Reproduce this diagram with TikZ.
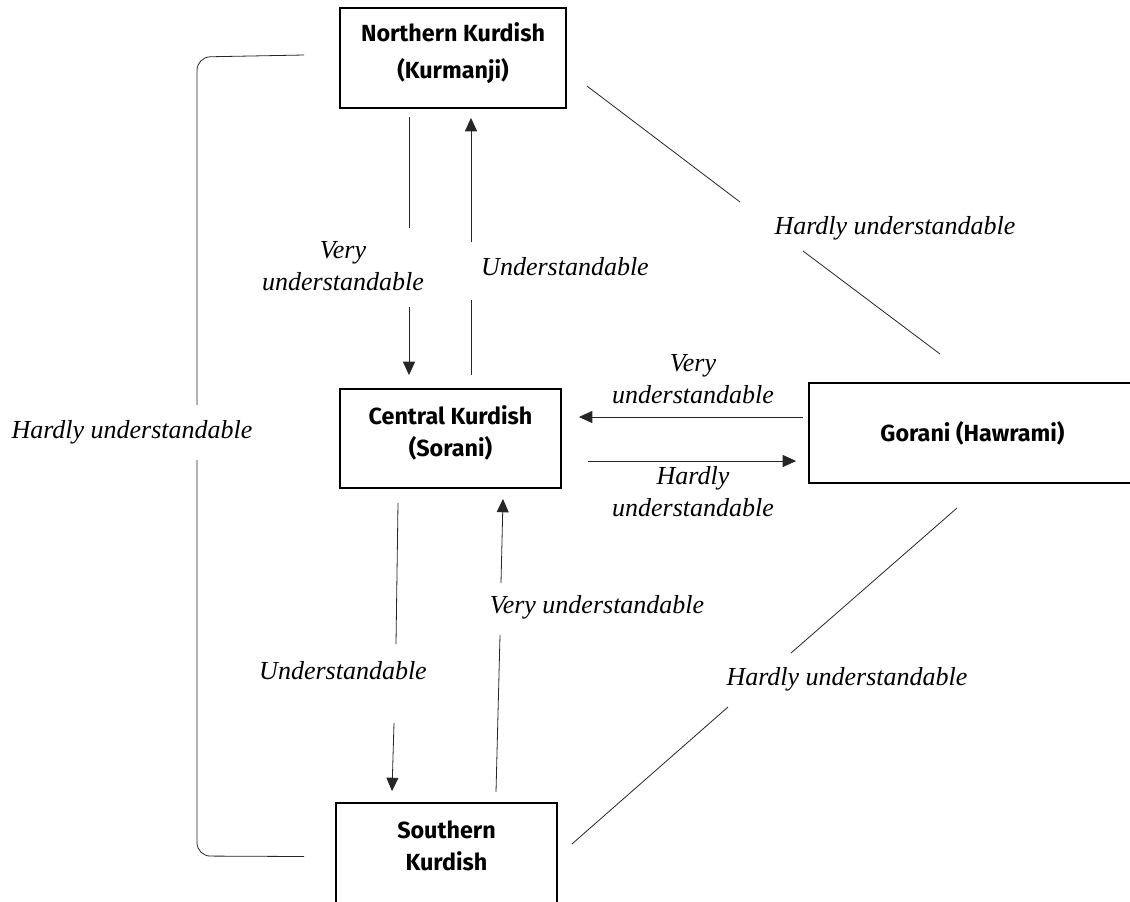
\documentclass[tikz,border=0pt]{standalone}
\usepackage{fontspec}
\setmainfont{Liberation Serif}
\setsansfont{Fira Sans}
\usetikzlibrary{arrows.meta,calc}

\begin{document}
\begin{tikzpicture}[x=0.75pt, y=-0.75pt, >={Triangle[length=10pt, width=9pt]}]
	\tikzstyle{lang} = [rectangle, draw = black, line width = 1.4pt, align = center, font = \sffamily\bfseries\fontsize{17.5}{24}\selectfont]
	\tikzstyle{lbl} = [align = center, font = \itshape\fontsize{19.5}{24}\selectfont]
	\tikzstyle{plain} = [draw = black!85, line width = 0.6pt]
	\useasboundingbox (0,0) rectangle (1130,901);
	\clip (0,0) rectangle (1130,901);
	% language boxes
	\node [lang, font = \sffamily\bfseries\fontsize{17.5}{27.75}\selectfont, minimum width = 169.5pt, minimum height = 75pt, text depth = 11pt] (N) at (453,58) {Northern Kurdish\\(Kurmanji)};
	\node [lang, minimum width = 165.75pt, minimum height = 74.25pt, text depth = 11pt] (C) at (450.5,438.5) {Central Kurdish\\(Sorani)};
	\node [lang, align = none, minimum width = 270pt, minimum height = 75pt] (G) at (989,433) {Gorani (Hawrami)\kern24.75pt\relax};
	\node [lang, minimum width = 165.75pt, minimum height = 84pt, text depth = 20pt] (S) at (446.5,859) {Southern\\Kurdish};
	% labels
	\node [lbl] (NC) at (343,266) {Very\\understandable};
	\node [lbl] (CN) at (565,267) {Understandable};
	\node [lbl] (NG) at (895,228) {Hardly understandable};
	\node [lbl] (GC) at (693,379) {Very\\understandable};
	\node [lbl] (CG) at (693,492) {Hardly\\understandable};
	\node [lbl] (SC) at (597,607) {Very understandable};
	\node [lbl] (CS) at (343,671) {Understandable};
	\node [lbl] (GS) at (847,679) {Hardly understandable};
	\node [lbl] (NS) at (132,432) {Hardly understandable};
	% gap ends
	\coordinate (a1) at (409,228); \coordinate (a2) at (409,307);
	\coordinate (b1) at (471,300); \coordinate (b2) at (471,242);
	\coordinate (c1) at (396,644); \coordinate (c2) at (394,723);
	\coordinate (d1) at (500,635); \coordinate (d2) at (501,583);
	\coordinate (e1) at (740,202); \coordinate (e2) at (803,251);
	\coordinate (f1) at (791,653); \coordinate (f2) at (728,707);
	\coordinate (g1) at (197,405); \coordinate (g2) at (197,460);
	% connectors
	\draw [plain] ($(N.south)+(-44,8)$) -- (a1);
	\draw [plain, ->] (a2) -- ($(C.north)+(-41.5,-13)$);
	\draw [plain] ($(C.north)+(20.5,-13)$) -- (b1);
	\draw [plain, ->] (b2) -- ($(N.south)+(18,9)$);
	\draw [plain, ->] ($(G.west)+(-5,-16)$) -- ($(C.east)+(17,-21.5)$);
	\draw [plain, ->] ($(C.east)+(26,22.5)$) -- ($(G.west)+(-12,28)$);
	\draw [plain] ($(C.south)+(-52.5,14)$) -- (c1);
	\draw [plain, ->] (c2) -- ($(S.north)+(-54.5,-11)$);
	\draw [plain] ($(S.north)+(49.5,-10)$) -- (d1);
	\draw [plain, ->] (d2) -- ($(C.south)+(52.5,10)$);
	\draw [plain] ($(N.east)+(20,28)$) -- (e1);
	\draw [plain] (e2) -- (940,354);
	\draw [plain] (957,508) -- (f1);
	\draw [plain] (f2) -- ($(S.east)+(14,-15)$);
	\draw [plain, rounded corners = 10] ($(N.west)+(-35,-3)$) -- (197,57) -- (g1);
	\draw [plain, rounded corners = 10] (g2) -- (197,856) -- ($(S.west)+(-31,-2.5)$);
\end{tikzpicture}
\end{document}
